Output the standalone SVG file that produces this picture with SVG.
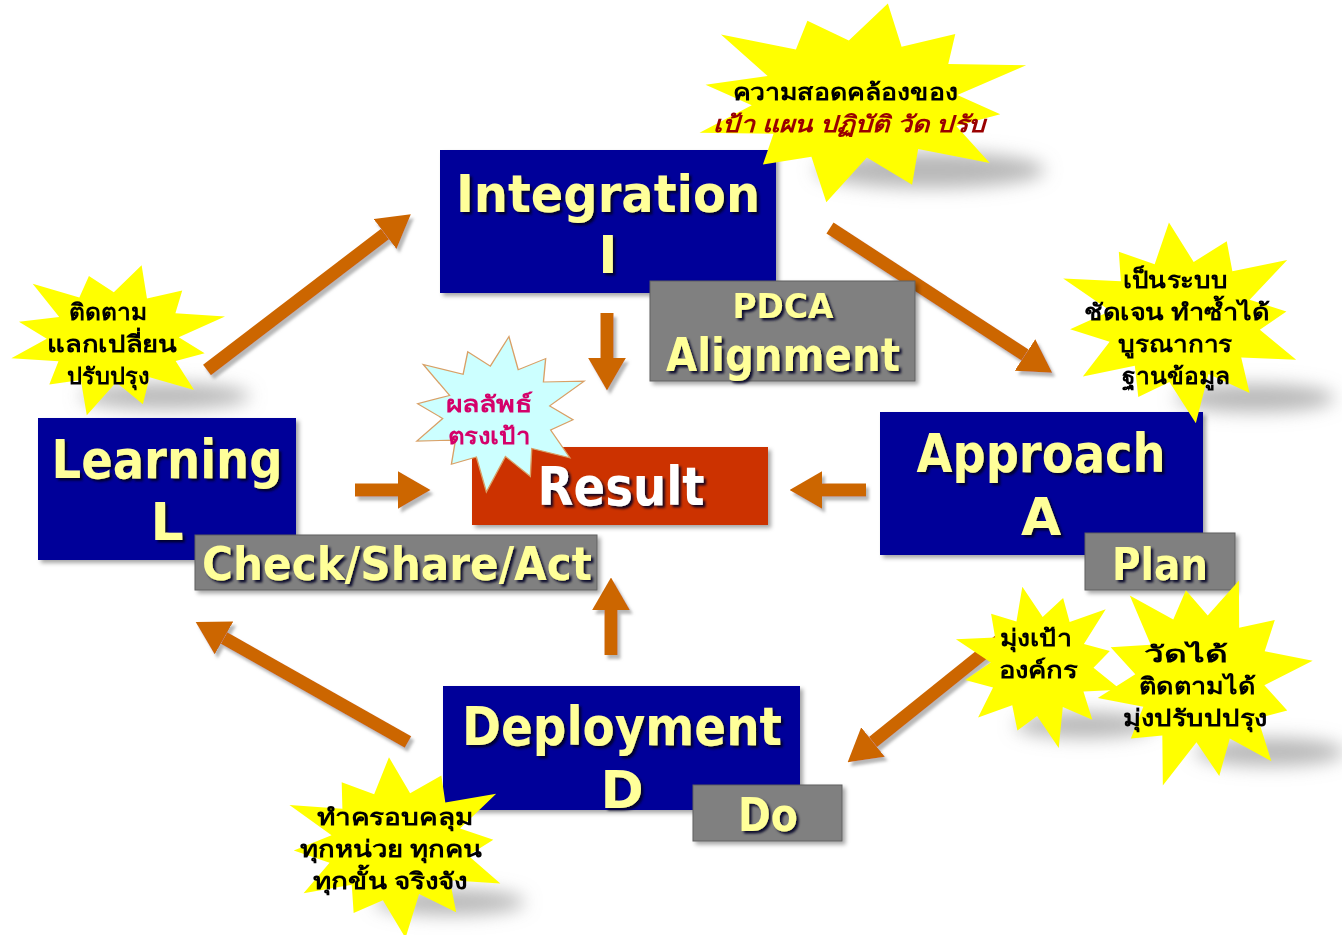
<svg xmlns="http://www.w3.org/2000/svg" width="1342" height="935" viewBox="0 0 1342 935">
<defs>
<style>
.box{fill:#000099}
.res{fill:#CC3300}
.tag{fill:#808080;stroke:#5f5f5f;stroke-width:1}
.lbl{font-family:'DejaVu Sans',Verdana,sans-serif;font-weight:bold;fill:#FFFF99;text-anchor:middle}
.white{fill:#FFFFFF}
.th{font-family:'Noto Sans','DejaVu Sans',sans-serif;font-weight:bold;font-size:23px;text-anchor:middle;fill:#000000}
.red{fill:#990000;font-style:italic}
.pink{fill:#D4006A}
.star{fill:#FFFF00}
.cyan{fill:#CCFFFF;stroke:#D9A066;stroke-width:1.5}
.shadow{fill:#9a9a9a;opacity:0.7}
.arrow{stroke:#CC6600;stroke-width:13;fill:none;marker-end:url(#ah)}
</style>
<marker id="ah" viewBox="0 0 10 10" refX="0" refY="5" markerWidth="2.5" markerHeight="2.9" preserveAspectRatio="none" orient="auto" markerUnits="strokeWidth">
<path d="M0,0 L10,5 L0,10 z" fill="#CC6600"/>
</marker>
<filter id="ts" x="-10%" y="-20%" width="125%" height="150%">
<feDropShadow dx="2.5" dy="2.5" stdDeviation="1" flood-color="#000022" flood-opacity="0.9"/>
</filter>
<filter id="bs" x="-10%" y="-10%" width="125%" height="130%">
<feDropShadow dx="3" dy="3" stdDeviation="2" flood-color="#000000" flood-opacity="0.35"/>
</filter>
<filter id="as" x="-20%" y="-20%" width="140%" height="140%">
<feDropShadow dx="3" dy="4" stdDeviation="1.5" flood-color="#999999" flood-opacity="0.7"/>
</filter>
<filter id="blur" x="-50%" y="-100%" width="200%" height="300%">
<feGaussianBlur stdDeviation="9"/>
</filter>
<polygon id="burst" points="0,-100 15.5,-58 44,-76.2 45.3,-45.3 90.1,-52 56,-15 84,0 60.9,16.3 86.6,50 43.1,43.1 46,79.7 15.3,57 0,106 -16.6,61.8 -43,74.5 -42.4,42.4 -84.9,49 -59.9,16 -90,0 -56,-15 -90.1,-52 -44.5,-44.5 -43,-74.5 -15.8,-58.9"/>
</defs>
<rect width="1342" height="935" fill="#FFFFFF"/>

<g id="shadows" filter="url(#blur)">
<ellipse class="shadow" cx="930" cy="170" rx="115" ry="18"/>
<ellipse class="shadow" cx="1255" cy="398" rx="80" ry="14"/>
<ellipse class="shadow" cx="165" cy="396" rx="85" ry="13"/>
<ellipse class="shadow" cx="1085" cy="725" rx="70" ry="13"/>
<ellipse class="shadow" cx="1270" cy="752" rx="75" ry="14"/>
<ellipse class="shadow" cx="450" cy="902" rx="75" ry="13"/>
</g>

<g id="connectors" filter="url(#as)">
<line class="arrow" x1="207" y1="370" x2="385" y2="234"/>
<line class="arrow" x1="830" y1="228" x2="1025" y2="355"/>
<line class="arrow" x1="607" y1="313" x2="607" y2="358"/>
<line class="arrow" x1="866" y1="490" x2="822" y2="490"/>
<line class="arrow" x1="355" y1="490" x2="398" y2="490"/>
<line class="arrow" x1="611" y1="655" x2="611" y2="610"/>
<line class="arrow" x1="408" y1="742" x2="224" y2="638"/>
<line class="arrow" x1="1000" y1="640" x2="873" y2="742"/>
</g>

<g id="integration">
<rect class="box" x="440" y="150" width="336" height="143" filter="url(#bs)"/>
<text class="lbl" x="608" y="212" font-size="52" textLength="304" lengthAdjust="spacingAndGlyphs" filter="url(#ts)">Integration</text>
<text class="lbl" x="608" y="273" font-size="52" filter="url(#ts)">I</text>
</g>
<g id="pdca">
<rect class="tag" x="650" y="281" width="265" height="100" filter="url(#bs)"/>
<text class="lbl" x="783" y="318" font-size="34" textLength="101" lengthAdjust="spacingAndGlyphs" filter="url(#ts)">PDCA</text>
<text class="lbl" x="783" y="371" font-size="46" textLength="234" lengthAdjust="spacingAndGlyphs" filter="url(#ts)">Alignment</text>
</g>

<g id="result">
<rect class="res" x="472" y="447" width="296" height="78" filter="url(#bs)"/>
<text class="lbl white" x="621" y="505" font-size="53" textLength="167" lengthAdjust="spacingAndGlyphs" filter="url(#ts)">Result</text>
</g>

<g id="learning">
<rect class="box" x="38" y="418" width="258" height="142" filter="url(#bs)"/>
<text class="lbl" x="167" y="478" font-size="54" textLength="231" lengthAdjust="spacingAndGlyphs" filter="url(#ts)">Learning</text>
<text class="lbl" x="167" y="540" font-size="52" filter="url(#ts)">L</text>
</g>
<g id="check">
<rect class="tag" x="195" y="535" width="402" height="55" filter="url(#bs)"/>
<text class="lbl" x="397" y="580" font-size="47" textLength="390" lengthAdjust="spacingAndGlyphs" filter="url(#ts)">Check/Share/Act</text>
</g>

<g id="approach">
<rect class="box" x="880" y="412" width="323" height="143" filter="url(#bs)"/>
<text class="lbl" x="1041" y="472" font-size="54" textLength="249" lengthAdjust="spacingAndGlyphs" filter="url(#ts)">Approach</text>
<text class="lbl" x="1041" y="535" font-size="52" filter="url(#ts)">A</text>
</g>
<g id="plan">
<rect class="tag" x="1085" y="533" width="150" height="57" filter="url(#bs)"/>
<text class="lbl" x="1160" y="580" font-size="45" textLength="96" lengthAdjust="spacingAndGlyphs" filter="url(#ts)">Plan</text>
</g>

<g id="deployment">
<rect class="box" x="443" y="686" width="357" height="124" filter="url(#bs)"/>
<text class="lbl" x="622" y="745" font-size="53" textLength="320" lengthAdjust="spacingAndGlyphs" filter="url(#ts)">Deployment</text>
<text class="lbl" x="622" y="808" font-size="52" filter="url(#ts)">D</text>
</g>
<g id="do">
<rect class="tag" x="693" y="785" width="149" height="56" filter="url(#bs)"/>
<text class="lbl" x="768" y="831" font-size="46" textLength="60" lengthAdjust="spacingAndGlyphs" filter="url(#ts)">Do</text>
</g>

<g id="star-top">
<use href="#burst" class="star" transform="translate(858,100) scale(1.72,0.98) rotate(10)"/>
<text class="th" x="845" y="100" textLength="225" lengthAdjust="spacingAndGlyphs">ความสอดคล้องของ</text>
<text class="th red" x="849" y="132" textLength="272" lengthAdjust="spacingAndGlyphs">เป้า แผน ปฏิบัติ วัด ปรับ</text>
</g>
<g id="star-system">
<use href="#burst" class="star" transform="translate(1182,320) scale(1.25,0.98) rotate(-6)"/>
<text class="th" x="1175" y="288" textLength="105" lengthAdjust="spacingAndGlyphs">เป็นระบบ</text>
<text class="th" x="1177" y="320" textLength="186" lengthAdjust="spacingAndGlyphs">ชัดเจน ทำซ้ำได้</text>
<text class="th" x="1175" y="352" textLength="114" lengthAdjust="spacingAndGlyphs">บูรณาการ</text>
<text class="th" x="1176" y="384" textLength="108" lengthAdjust="spacingAndGlyphs">ฐานข้อมูล</text>
</g>
<g id="star-follow">
<use href="#burst" class="star" transform="translate(115,338) scale(1.1,0.75) rotate(14)"/>
<text class="th" x="108" y="320" textLength="78" lengthAdjust="spacingAndGlyphs">ติดตาม</text>
<text class="th" x="112" y="352" textLength="130" lengthAdjust="spacingAndGlyphs">แลกเปลี่ยน</text>
<text class="th" x="108" y="384" textLength="82" lengthAdjust="spacingAndGlyphs">ปรับปรุง</text>
</g>
<g id="star-result">
<use href="#burst" class="cyan" transform="translate(498,412) scale(0.9,0.76) rotate(7)"/>
<text class="th pink" x="489" y="412" textLength="87" lengthAdjust="spacingAndGlyphs">ผลลัพธ์</text>
<text class="th pink" x="489" y="444" textLength="83" lengthAdjust="spacingAndGlyphs">ตรงเป้า</text>
</g>
<g id="star-target">
<use href="#burst" class="star" transform="translate(1040,665) scale(0.85,0.8) rotate(-12)"/>
<text class="th" x="1036" y="646" textLength="72" lengthAdjust="spacingAndGlyphs">มุ่งเป้า</text>
<text class="th" x="1038" y="678" textLength="79" lengthAdjust="spacingAndGlyphs">องค์กร</text>
</g>
<g id="star-measure">
<use href="#burst" class="star" transform="translate(1202,680) scale(1.08,1.06) rotate(20)"/>
<text class="th" x="1186" y="662" textLength="84" lengthAdjust="spacingAndGlyphs">วัดได้</text>
<text class="th" x="1197" y="694" textLength="117" lengthAdjust="spacingAndGlyphs">ติดตามได้</text>
<text class="th" x="1195" y="726" textLength="144" lengthAdjust="spacingAndGlyphs">มุ่งปรับปปรุง</text>
</g>
<g id="star-cover">
<use href="#burst" class="star" transform="translate(397,845) scale(1.15,0.88) rotate(-4)"/>
<text class="th" x="395" y="825" textLength="156" lengthAdjust="spacingAndGlyphs">ทำครอบคลุม</text>
<text class="th" x="391" y="857" textLength="182" lengthAdjust="spacingAndGlyphs">ทุกหน่วย ทุกคน</text>
<text class="th" x="390" y="889" textLength="154" lengthAdjust="spacingAndGlyphs">ทุกขั้น จริงจัง</text>
</g>
</svg>
